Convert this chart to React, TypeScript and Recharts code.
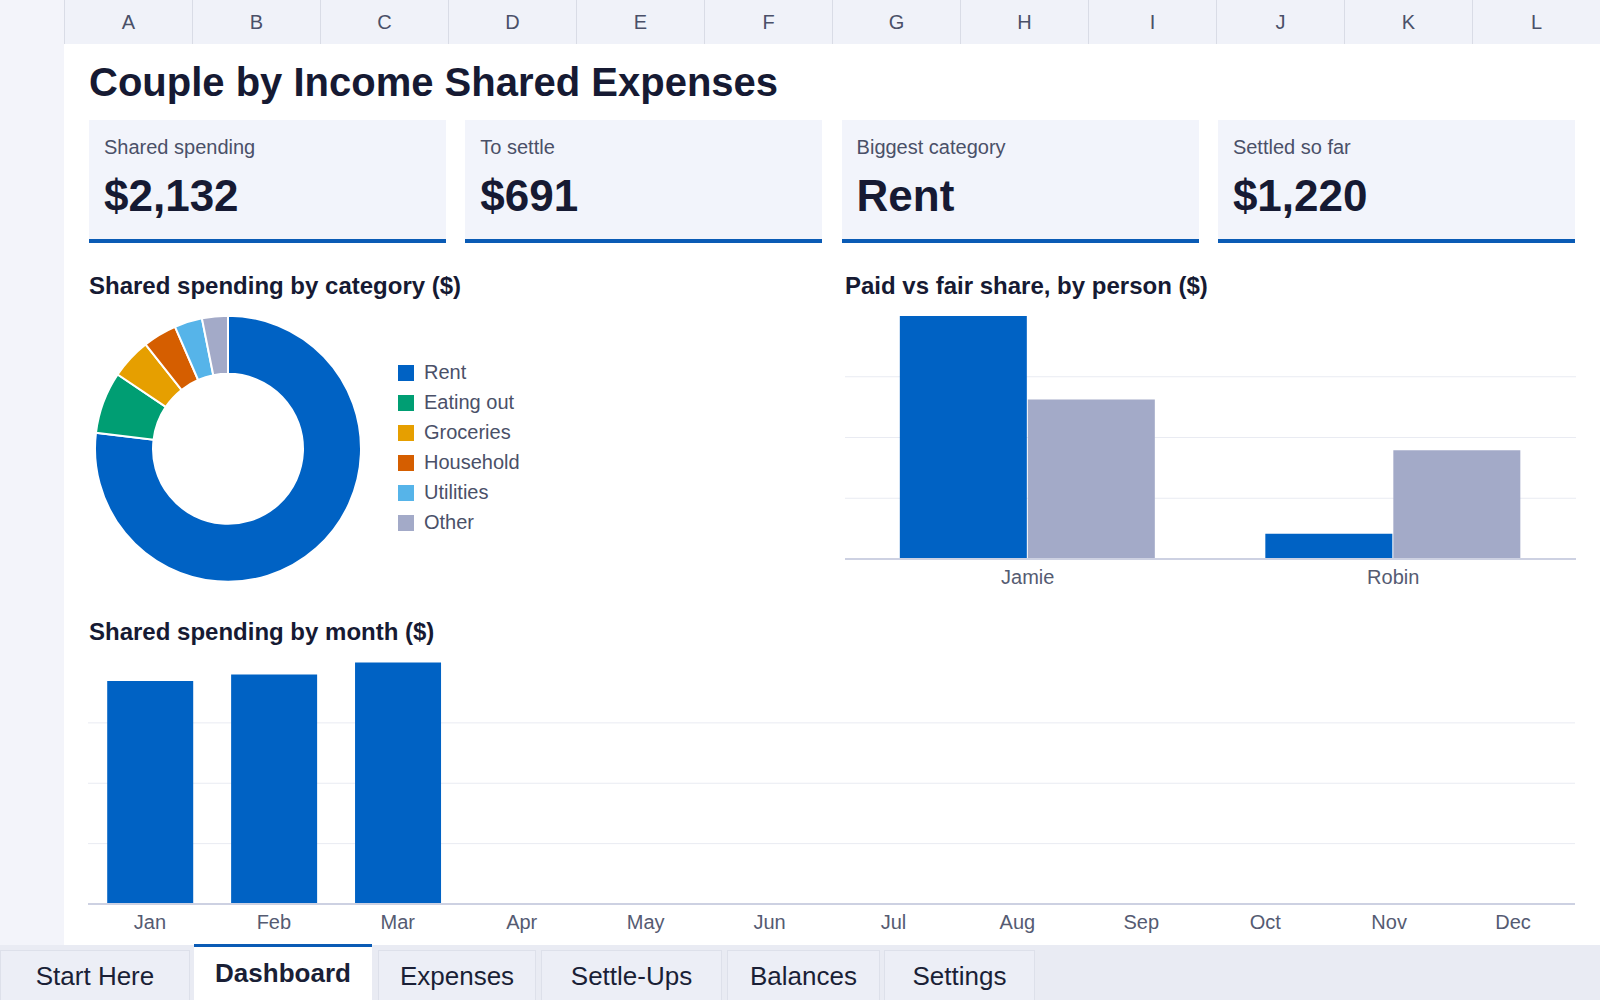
import { Bar, BarChart, CartesianGrid, Cell, Legend, Pie, PieChart, XAxis, YAxis } from "recharts";

const FONT = '"Liberation Sans", Arial, sans-serif';
const BLUE = "#0062C4";
const FAIR = "#A3AAC8";

const columns = ["A", "B", "C", "D", "E", "F", "G", "H", "I", "J", "K", "L"];

const kpiLabels = ["Shared spending", "To settle", "Biggest category", "Settled so far"];
const kpiValues = ["$2,132", "$691", "Rent", "$1,220"];

const categories = ["Rent", "Eating out", "Groceries", "Household", "Utilities", "Other"];
const categorySpend = [1640, 160, 105, 88, 72, 67];
const categoryColors = [BLUE, "#009E73", "#E69F00", "#D55E00", "#56B4E9", FAIR];

const people = ["Jamie", "Robin"];
const paidAmounts = [1932, 200];
const fairShares = [1268, 864];
const personTicks = [0, 483, 966, 1449];

const months = ["Jan", "Feb", "Mar", "Apr", "May", "Jun", "Jul", "Aug", "Sep", "Oct", "Nov", "Dec"];
const monthSpend: (number | null)[] = [685, 705, 742, null, null, null, null, null, null, null, null, null];
const monthTicks = [0, 185.5, 371, 556.5];

const tabs = ["Start Here", "Dashboard", "Expenses", "Settle-Ups", "Balances", "Settings"];
const tabBounds = [[0, 190], [194, 372], [378, 536], [541, 722], [727, 880], [884, 1035]];

const categoryData = categories.map((name, i) => ({ name, value: categorySpend[i], color: categoryColors[i] }));
const personData = people.map((name, i) => ({ name, paid: paidAmounts[i], fair: fairShares[i] }));
const monthData = months.map((month, i) => ({ month, spend: monthSpend[i] }));

const tick = { fontFamily: FONT, fontSize: 20, fill: "#555B72" };

function CategoryLegend() {
  return (
    <div style={{ fontFamily: FONT }}>
      {categoryData.map((c) => (
        <div key={c.name} style={{ display: "flex", alignItems: "center", height: 30 }}>
          <div style={{ width: 16, height: 16, background: c.color, marginRight: 10 }} />
          <span style={{ fontSize: 20, color: "#4A5068" }}>{c.name}</span>
        </div>
      ))}
    </div>
  );
}

const sectionTitle = { position: "absolute" as const, fontSize: 24, fontWeight: 700, color: "#161A33", lineHeight: "24px", whiteSpace: "nowrap" as const };

export default function App() {
  return (
    <div style={{ position: "fixed", left: 0, top: 0, width: 1600, height: 1000, overflow: "hidden", background: "#fff", fontFamily: FONT }}>
      {/* sheet frame */}
      <div style={{ position: "absolute", left: 0, top: 0, width: 64, height: 945, background: "#F3F4FA" }} />
      {columns.map((c, i) => (
        <div key={c} style={{ position: "absolute", left: 64 + i * 128, top: 0, width: 128, height: 44, background: "#F0F2F9", borderLeft: "1px solid #D9DCE6", boxSizing: "border-box", display: "flex", alignItems: "center", justifyContent: "center", fontSize: 20, color: "#4A5068" }}>
          {c}
        </div>
      ))}

      <div style={{ position: "absolute", left: 89, top: 62, fontSize: 40, fontWeight: 700, color: "#161A33", lineHeight: "40px", whiteSpace: "nowrap" }}>
        Couple by Income Shared Expenses
      </div>

      {kpiLabels.map((label, i) => (
        <div key={label} style={{ position: "absolute", left: 89 + i * 376.3, top: 120, width: 357, height: 123, background: "#F2F4FB", borderBottom: "4px solid #0A5BB5", boxSizing: "border-box" }}>
          <div style={{ position: "absolute", left: 15, top: 17, fontSize: 20, lineHeight: "20px", color: "#4A5068", whiteSpace: "nowrap" }}>{label}</div>
          <div style={{ position: "absolute", left: 15, top: 54, fontSize: 44, lineHeight: "44px", fontWeight: 700, color: "#161A33", whiteSpace: "nowrap" }}>{kpiValues[i]}</div>
        </div>
      ))}

      <div style={{ ...sectionTitle, left: 89, top: 274 }}>Shared spending by category ($)</div>
      <div style={{ ...sectionTitle, left: 845, top: 274 }}>Paid vs fair share, by person ($)</div>
      <div style={{ ...sectionTitle, left: 89, top: 620 }}>Shared spending by month ($)</div>

      {/* donut */}
      <div style={{ position: "absolute", left: 64, top: 300 }}>
        <PieChart width={520} height={300}>
          <Pie data={categoryData} dataKey="value" nameKey="name" cx={159} cy={143.8} innerRadius={75} outerRadius={133} startAngle={90} endAngle={-270} stroke="#fff" strokeWidth={2} isAnimationActive={false}>
            {categoryData.map((c) => <Cell key={c.name} fill={c.color} />)}
          </Pie>
          <Legend content={() => <CategoryLegend />} wrapperStyle={{ position: "absolute", left: 334, top: 57.5, width: 180 }} />
        </PieChart>
      </div>

      {/* paid vs fair */}
      <div style={{ position: "absolute", left: 845, top: 300 }}>
        <BarChart width={731} height={300} data={personData} margin={{ top: 16, right: 0, bottom: 0, left: 0 }} barCategoryGap="15%" barGap={1}>
          <CartesianGrid vertical={false} stroke="#E9EBF2" horizontalValues={personTicks} />
          <XAxis dataKey="name" height={41} tick={tick} tickLine={false} tickMargin={4.5} axisLine={{ stroke: "#CDD1E2", strokeWidth: 2 }} />
          <YAxis hide domain={[0, 1932]} ticks={personTicks} />
          <Bar dataKey="paid" name="Paid" fill={BLUE} isAnimationActive={false} />
          <Bar dataKey="fair" name="Fair share" fill={FAIR} isAnimationActive={false} />
        </BarChart>
      </div>

      {/* by month */}
      <div style={{ position: "absolute", left: 88, top: 640 }}>
        <BarChart width={1487} height={305} data={monthData} margin={{ top: 22.5, right: 0, bottom: 0, left: 0 }} barCategoryGap="15.5%">
          <CartesianGrid vertical={false} stroke="#E9EBF2" horizontalValues={monthTicks} />
          <XAxis dataKey="month" height={41} tick={tick} tickLine={false} tickMargin={5} axisLine={{ stroke: "#CDD1E2", strokeWidth: 2 }} />
          <YAxis hide domain={[0, 742]} ticks={monthTicks} />
          <Bar dataKey="spend" name="Shared spending" fill={BLUE} isAnimationActive={false} />
        </BarChart>
      </div>

      {/* sheet tabs */}
      <div style={{ position: "absolute", left: 0, top: 945, width: 1600, height: 55, background: "#E9EBF3" }} />
      {tabs.map((t, i) => {
        const [x0, x1] = tabBounds[i];
        const active = t === "Dashboard";
        return (
          <div key={t} style={{
            position: "absolute", left: x0, top: active ? 944 : 950, width: x1 - x0, height: active ? 56 : 50,
            background: active ? "#fff" : "#ECEEF6", boxSizing: "border-box",
            borderTop: active ? "3px solid #0A5BB5" : "1px solid #DDE0EA", borderLeft: active ? "none" : "1px solid #DDE0EA", borderRight: active ? "none" : "1px solid #DDE0EA",
            textAlign: "center", fontSize: 26, fontWeight: active ? 700 : 400, color: "#1A1F36", lineHeight: "26px", paddingTop: active ? 13 : 12,
          }}>
            {t}
          </div>
        );
      })}
    </div>
  );
}
